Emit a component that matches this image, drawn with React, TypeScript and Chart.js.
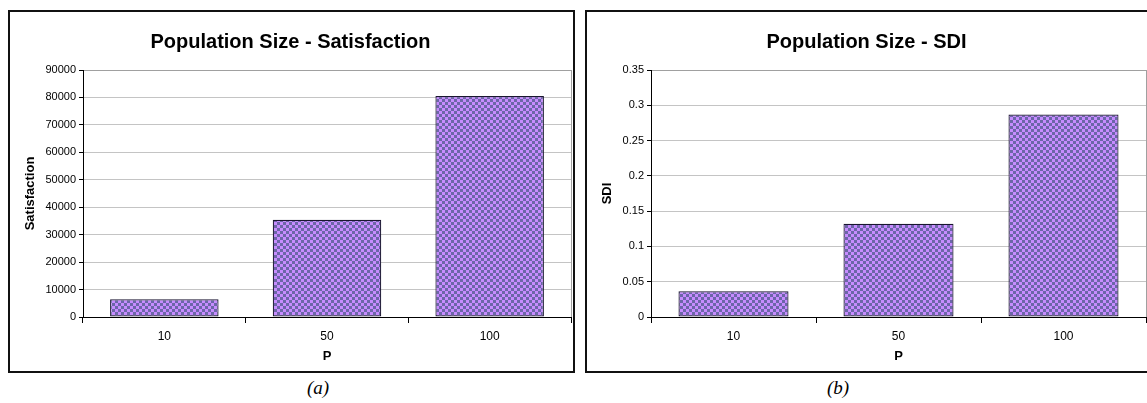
import React, { useEffect, useRef } from "react";
import { Chart, registerables } from "chart.js";

Chart.register(...registerables);

// ---- data ----
const categories = ["10", "50", "100"];
const satisfactionValues = [6450, 35400, 80500];
const sdiValues = [0.0365, 0.132, 0.287];
const satisfactionTicks = [0, 10000, 20000, 30000, 40000, 50000, 60000, 70000, 80000, 90000];
const sdiTicks = [0, 0.05, 0.1, 0.15, 0.2, 0.25, 0.3, 0.35];
const xAxisTitle = "P";

const FONT = "'Liberation Sans', Arial, sans-serif";

function makePattern(): CanvasPattern | string {
  const tile = document.createElement("canvas");
  tile.width = 6;
  tile.height = 6;
  const c = tile.getContext("2d");
  if (!c) return "#9a78d8";
  c.fillStyle = "#6c66a8";
  c.fillRect(0, 0, 6, 6);
  c.fillStyle = "#c68cff";
  c.fillRect(0, 0, 3, 3);
  c.fillRect(3, 3, 3, 3);
  const ctx = document.createElement("canvas").getContext("2d");
  const p = ctx ? ctx.createPattern(tile, "repeat") : null;
  return p || "#9a78d8";
}

const plotBorderPlugin = {
  id: "plotBorder",
  beforeDatasetsDraw(chart: any) {
    const { ctx, chartArea } = chart;
    ctx.save();
    ctx.strokeStyle = "#a0a0a0";
    ctx.lineWidth = 1;
    ctx.beginPath();
    const x = Math.round(chartArea.right) + 0.5;
    ctx.moveTo(x, chartArea.top);
    ctx.lineTo(x, chartArea.bottom);
    ctx.stroke();
    ctx.restore();
  },
};

type PanelProps = {
  left: number;
  title: string;
  yTitle: string;
  values: number[];
  ticks: number[];
  yWidth: number;
  padRight: number;
  caption: string;
  captionX: number;
};

const CW = 563;
const CH = 359;

function Panel(props: PanelProps) {
  const ref = useRef<HTMLCanvasElement | null>(null);
  useEffect(() => {
    if (!ref.current) return;
    const pattern = makePattern();
    const tickVals = props.ticks;
    const chart = new Chart(ref.current, {
      type: "bar",
      data: {
        labels: categories,
        datasets: [
          {
            data: props.values,
            backgroundColor: pattern as any,
            borderColor: "#1a1530",
            borderWidth: 1.2,
            borderSkipped: false,
            barPercentage: 0.667,
            categoryPercentage: 1,
          },
        ],
      },
      options: {
        animation: false,
        responsive: false,
        devicePixelRatio: 1,
        layout: { padding: { left: 0, right: props.padRight, top: 0, bottom: 0 } },
        plugins: {
          legend: { display: false },
          tooltip: { enabled: false },
          title: {
            display: true,
            text: props.title,
            color: "#000",
            font: { family: FONT, size: 20, weight: "bold" },
            padding: { top: 18, bottom: 16 },
          },
        },
        scales: {
          x: {
            grid: {
              drawOnChartArea: false,
              offset: true,
              tickLength: 6,
              tickColor: "#000",
            },
            border: { color: "#000", width: 1 },
            ticks: {
              color: "#000",
              font: { family: FONT, size: 12 },
              padding: 6,
              maxRotation: 0,
            },
            title: {
              display: true,
              text: xAxisTitle,
              color: "#000",
              font: { family: FONT, size: 13, weight: "bold" },
              padding: { top: 0, bottom: 7 },
            },
            afterFit: (s: any) => {
              s.height = CH - 305;
            },
          },
          y: {
            min: tickVals[0],
            max: tickVals[tickVals.length - 1],
            afterBuildTicks: (s: any) => {
              s.ticks = tickVals.map((v) => ({ value: v }));
            },
            grid: {
              color: (c: any) => (c.tick && c.tick.value === 0 ? "#000" : c.index === tickVals.length - 1 ? "#a0a0a0" : "#c4c4c4"),
              tickLength: 4,
              tickColor: "#000",
            },
            border: { color: "#000", width: 1 },
            ticks: {
              color: "#000",
              font: { family: FONT, size: 11 },
              padding: 3,
              callback: (v: any) => String(+Number(v).toFixed(4)),
            },
            title: {
              display: true,
              text: props.yTitle,
              color: "#000",
              font: { family: FONT, size: 13, weight: "bold" },
              padding: { top: 12.2, bottom: 0 },
            },
            afterFit: (s: any) => {
              s.width = props.yWidth;
            },
          },
        },
      },
      plugins: [plotBorderPlugin],
    } as any);
    return () => chart.destroy();
  }, []);

  return (
    <>
      <div
        style={{
          position: "absolute",
          left: props.left,
          top: 10,
          width: CW,
          height: CH,
          border: "2px solid #111",
          background: "#fff",
        }}
      >
        <canvas ref={ref} width={CW} height={CH} style={{ display: "block", width: CW, height: CH }} />
      </div>
      <div
        style={{
          position: "absolute",
          left: props.captionX - 30,
          width: 60,
          top: 377,
          textAlign: "center",
          fontFamily: "'Liberation Serif', 'Times New Roman', serif",
          fontStyle: "italic",
          fontSize: 19,
          lineHeight: "22px",
          color: "#000",
        }}
      >
        {props.caption}
      </div>
    </>
  );
}

export default function App() {
  return (
    <div
      style={{
        position: "fixed",
        left: 0,
        top: 0,
        width: 1147,
        height: 403,
        overflow: "hidden",
        background: "#fff",
      }}
    >
      <Panel
        left={8}
        title="Population Size - Satisfaction"
        yTitle="Satisfaction"
        values={satisfactionValues}
        ticks={satisfactionTicks}
        yWidth={73}
        padRight={2}
        caption="(a)"
        captionX={318}
      />
      <Panel
        left={585}
        title="Population Size - SDI"
        yTitle="SDI"
        values={sdiValues}
        ticks={sdiTicks}
        yWidth={64}
        padRight={4}
        caption="(b)"
        captionX={838}
      />
    </div>
  );
}
